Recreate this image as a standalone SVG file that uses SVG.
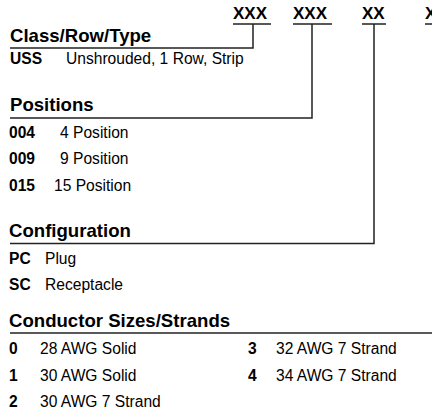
<svg xmlns="http://www.w3.org/2000/svg" width="432" height="413" viewBox="0 0 432 413">
<style>
text{font-family:"Liberation Sans",Arial,sans-serif;fill:#000}
.h{font-size:18.6px;font-weight:bold}
.c{font-size:15.6px;font-weight:bold}
.b{font-size:15.6px}
.x{font-size:17px;font-weight:bold}
.ln{fill:none;stroke:#222;stroke-width:1.5}
</style>
<rect width="432" height="413" fill="#fff"/>
<g id="code">
<text class="x" x="233" y="19">XXX</text>
<text class="x" x="293" y="19">XXX</text>
<text class="x" x="362" y="19">XX</text>
<text class="x" x="425" y="19">X</text>
</g>
<g id="connectors">
<path class="ln" d="M233,24H271M293,24H332M362,24H386M425,24H432"/>
<path class="ln" d="M10,48H253V24"/>
<path class="ln" d="M10,118H312V24"/>
<path class="ln" d="M10,243.5H374V24"/>
<path class="ln" d="M10,333H432"/>
</g>
<g id="class">
<text class="h" x="10" y="42">Class/Row/Type</text>
<text class="c" x="10" y="64">USS</text>
<text class="b" x="66" y="64">Unshrouded, 1 Row, Strip</text>
</g>
<g id="positions">
<text class="h" x="10" y="111">Positions</text>
<text class="c" x="9" y="137.5">004</text>
<text class="b" x="60" y="137.5">4 Position</text>
<text class="c" x="9" y="164">009</text>
<text class="b" x="60" y="164">9 Position</text>
<text class="c" x="9" y="190.5">015</text>
<text class="b" x="54" y="190.5">15 Position</text>
</g>
<g id="configuration">
<text class="h" x="9" y="237">Configuration</text>
<text class="c" x="9" y="264">PC</text>
<text class="b" x="45" y="264">Plug</text>
<text class="c" x="9" y="290">SC</text>
<text class="b" x="45" y="290">Receptacle</text>
</g>
<g id="conductor">
<text class="h" x="9" y="327">Conductor Sizes/Strands</text>
<text class="c" x="9" y="354">0</text>
<text class="b" x="40" y="354">28 AWG Solid</text>
<text class="c" x="9" y="380.5">1</text>
<text class="b" x="40" y="380.5">30 AWG Solid</text>
<text class="c" x="9" y="406.5">2</text>
<text class="b" x="40" y="406.5">30 AWG 7 Strand</text>
<text class="c" x="248" y="354">3</text>
<text class="b" x="276" y="354">32 AWG 7 Strand</text>
<text class="c" x="248" y="380.5">4</text>
<text class="b" x="276" y="380.5">34 AWG 7 Strand</text>
</g>
</svg>
